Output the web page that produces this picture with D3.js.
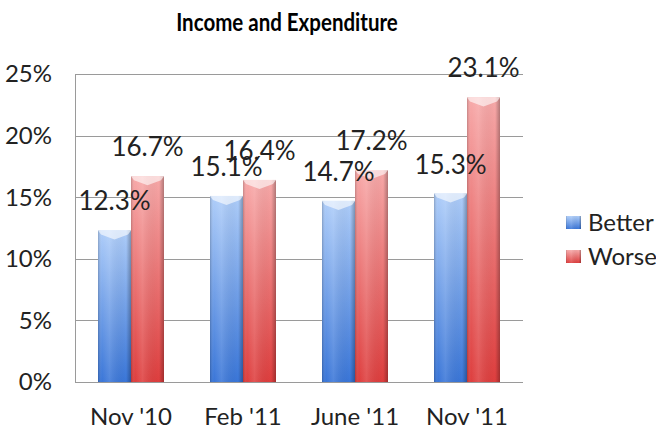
<!DOCTYPE html>
<html>
<head>
<meta charset="utf-8">
<script src="https://cdn.jsdelivr.net/npm/d3@7"></script>
<style>
  body { margin: 0; background: #fff; }
  text { font-family: Lato, "Open Sans", sans-serif; }
</style>
</head>
<body>
<div id="chart"></div>
<script>
var categories = ["Nov '10", "Feb '11", "June '11", "Nov '11"];
var seriesNames = ["Better", "Worse"];
var better = [12.3, 15.1, 14.7, 15.3];
var worse = [16.7, 16.4, 17.2, 23.1];
var yTicks = [0, 5, 10, 15, 20, 25];

var width = 656, height = 430;
var plot = { left: 75, right: 523, top: 74, bottom: 382 };

var svg = d3.select("#chart").append("svg")
    .attr("width", width)
    .attr("height", height);

// gradients for the glossy bars
var defs = svg.append("defs");
var palette = {
    Better: { top: "#aecdf9", bottom: "#3a76d8" },
    Worse: { top: "#f7a9a9", bottom: "#de3e3e" }
};
seriesNames.forEach(function (name) {
    var g = defs.append("linearGradient")
        .attr("id", "grad-" + name)
        .attr("x1", 0).attr("y1", 0).attr("x2", 0).attr("y2", 1);
    g.append("stop").attr("offset", "0%").attr("stop-color", palette[name].top);
    g.append("stop").attr("offset", "100%").attr("stop-color", palette[name].bottom);
});
var side = defs.append("linearGradient")
    .attr("id", "side")
    .attr("x1", 0).attr("y1", 0).attr("x2", 1).attr("y2", 0);
side.append("stop").attr("offset", "0%").attr("stop-color", "#000").attr("stop-opacity", 0.2);
side.append("stop").attr("offset", "12%").attr("stop-color", "#fff").attr("stop-opacity", 0.0);
side.append("stop").attr("offset", "35%").attr("stop-color", "#fff").attr("stop-opacity", 0.12);
side.append("stop").attr("offset", "85%").attr("stop-color", "#000").attr("stop-opacity", 0.0);
side.append("stop").attr("offset", "100%").attr("stop-color", "#000").attr("stop-opacity", 0.28);

var x0 = d3.scaleBand()
    .domain(categories)
    .range([plot.left, plot.right]);

var x1 = d3.scaleBand()
    .domain(seriesNames)
    .range([0, 66]);

var y = d3.scaleLinear()
    .domain([0, 25])
    .range([plot.bottom, plot.top]);

// title (narrowed a bit, the original face is condensed)
svg.append("text")
    .attr("transform", "translate(287,31) scale(0.82,1)")
    .attr("text-anchor", "middle")
    .style("font-size", "25px")
    .style("font-weight", "bold")
    .attr("fill", "#000")
    .text("Income and Expenditure");

// gridlines
svg.append("g")
    .selectAll("line")
    .data(yTicks)
    .enter().append("line")
    .attr("x1", plot.left)
    .attr("x2", plot.right)
    .attr("y1", function (d) { return Math.round(y(d)) + 0.5; })
    .attr("y2", function (d) { return Math.round(y(d)) + 0.5; })
    .attr("stroke", "#9a9a9a")
    .attr("stroke-width", 1);

// left axis line
svg.append("line")
    .attr("x1", plot.left + 0.5).attr("x2", plot.left + 0.5)
    .attr("y1", Math.round(y(25)) + 0.5).attr("y2", Math.round(y(0)) + 0.5)
    .attr("stroke", "#9a9a9a");

// y tick labels
svg.append("g")
    .selectAll("text")
    .data(yTicks)
    .enter().append("text")
    .attr("x", 52)
    .attr("y", function (d) { return y(d); })
    .attr("dy", "0.35em")
    .attr("text-anchor", "end")
    .style("font-size", "24px")
    .attr("fill", "#222")
    .text(function (d) { return d + "%"; });

// x labels
svg.append("g")
    .selectAll("text")
    .data(categories)
    .enter().append("text")
    .attr("x", function (d) { return x0(d) + x0.bandwidth() / 2; })
    .attr("y", 425)
    .attr("text-anchor", "middle")
    .style("font-size", "24px")
    .attr("fill", "#222")
    .text(function (d) { return d; });

var rows = [];
categories.forEach(function (c, i) {
    rows.push({ cat: c, series: "Better", value: better[i] });
    rows.push({ cat: c, series: "Worse", value: worse[i] });
});

function barX(d) {
    return x0(d.cat) + x0.bandwidth() / 2 - 33 + x1(d.series);
}

var bars = svg.append("g").selectAll("g")
    .data(rows)
    .enter().append("g");

bars.append("rect")
    .attr("x", barX)
    .attr("y", function (d) { return y(d.value); })
    .attr("width", x1.bandwidth())
    .attr("height", function (d) { return y(0) - y(d.value); })
    .attr("fill", function (d) { return "url(#grad-" + d.series + ")"; });

bars.append("rect")
    .attr("x", barX)
    .attr("y", function (d) { return y(d.value); })
    .attr("width", x1.bandwidth())
    .attr("height", function (d) { return y(0) - y(d.value); })
    .attr("fill", "url(#side)");

// bevel on top of each bar
bars.append("path")
    .attr("d", function (d) {
        var l = barX(d), w = x1.bandwidth(), t = y(d.value);
        return "M" + l + "," + t + "L" + (l + w) + "," + t +
            "L" + (l + w - 3) + "," + (t + 4) +
            "L" + (l + w / 2) + "," + (t + 9) +
            "L" + (l + 3) + "," + (t + 4) + "Z";
    })
    .attr("fill", "#fff")
    .attr("fill-opacity", 0.6);

// value labels, drawn after all bars so they sit on top
svg.append("g").selectAll("text")
    .data(rows)
    .enter().append("text")
    .attr("x", function (d) { return barX(d) + x1.bandwidth() / 2; })
    .attr("y", function (d) { return y(d.value) - 20; })
    .attr("text-anchor", "middle")
    .style("font-size", "26px")
    .attr("fill", "#222")
    .text(function (d) { return d.value.toFixed(1) + "%"; });

// legend
var legend = svg.append("g").selectAll("g")
    .data(seriesNames)
    .enter().append("g")
    .attr("transform", function (d, i) { return "translate(566," + (216 + i * 34) + ")"; });

legend.append("rect")
    .attr("width", 15).attr("height", 13)
    .attr("fill", function (d) { return "url(#grad-" + d + ")"; });
legend.append("rect")
    .attr("width", 15).attr("height", 13)
    .attr("fill", "url(#side)");

legend.append("text")
    .attr("x", 22)
    .attr("y", 7)
    .attr("dy", "0.35em")
    .style("font-size", "24px")
    .attr("fill", "#222")
    .text(function (d) { return d; });
</script>
</body>
</html>
